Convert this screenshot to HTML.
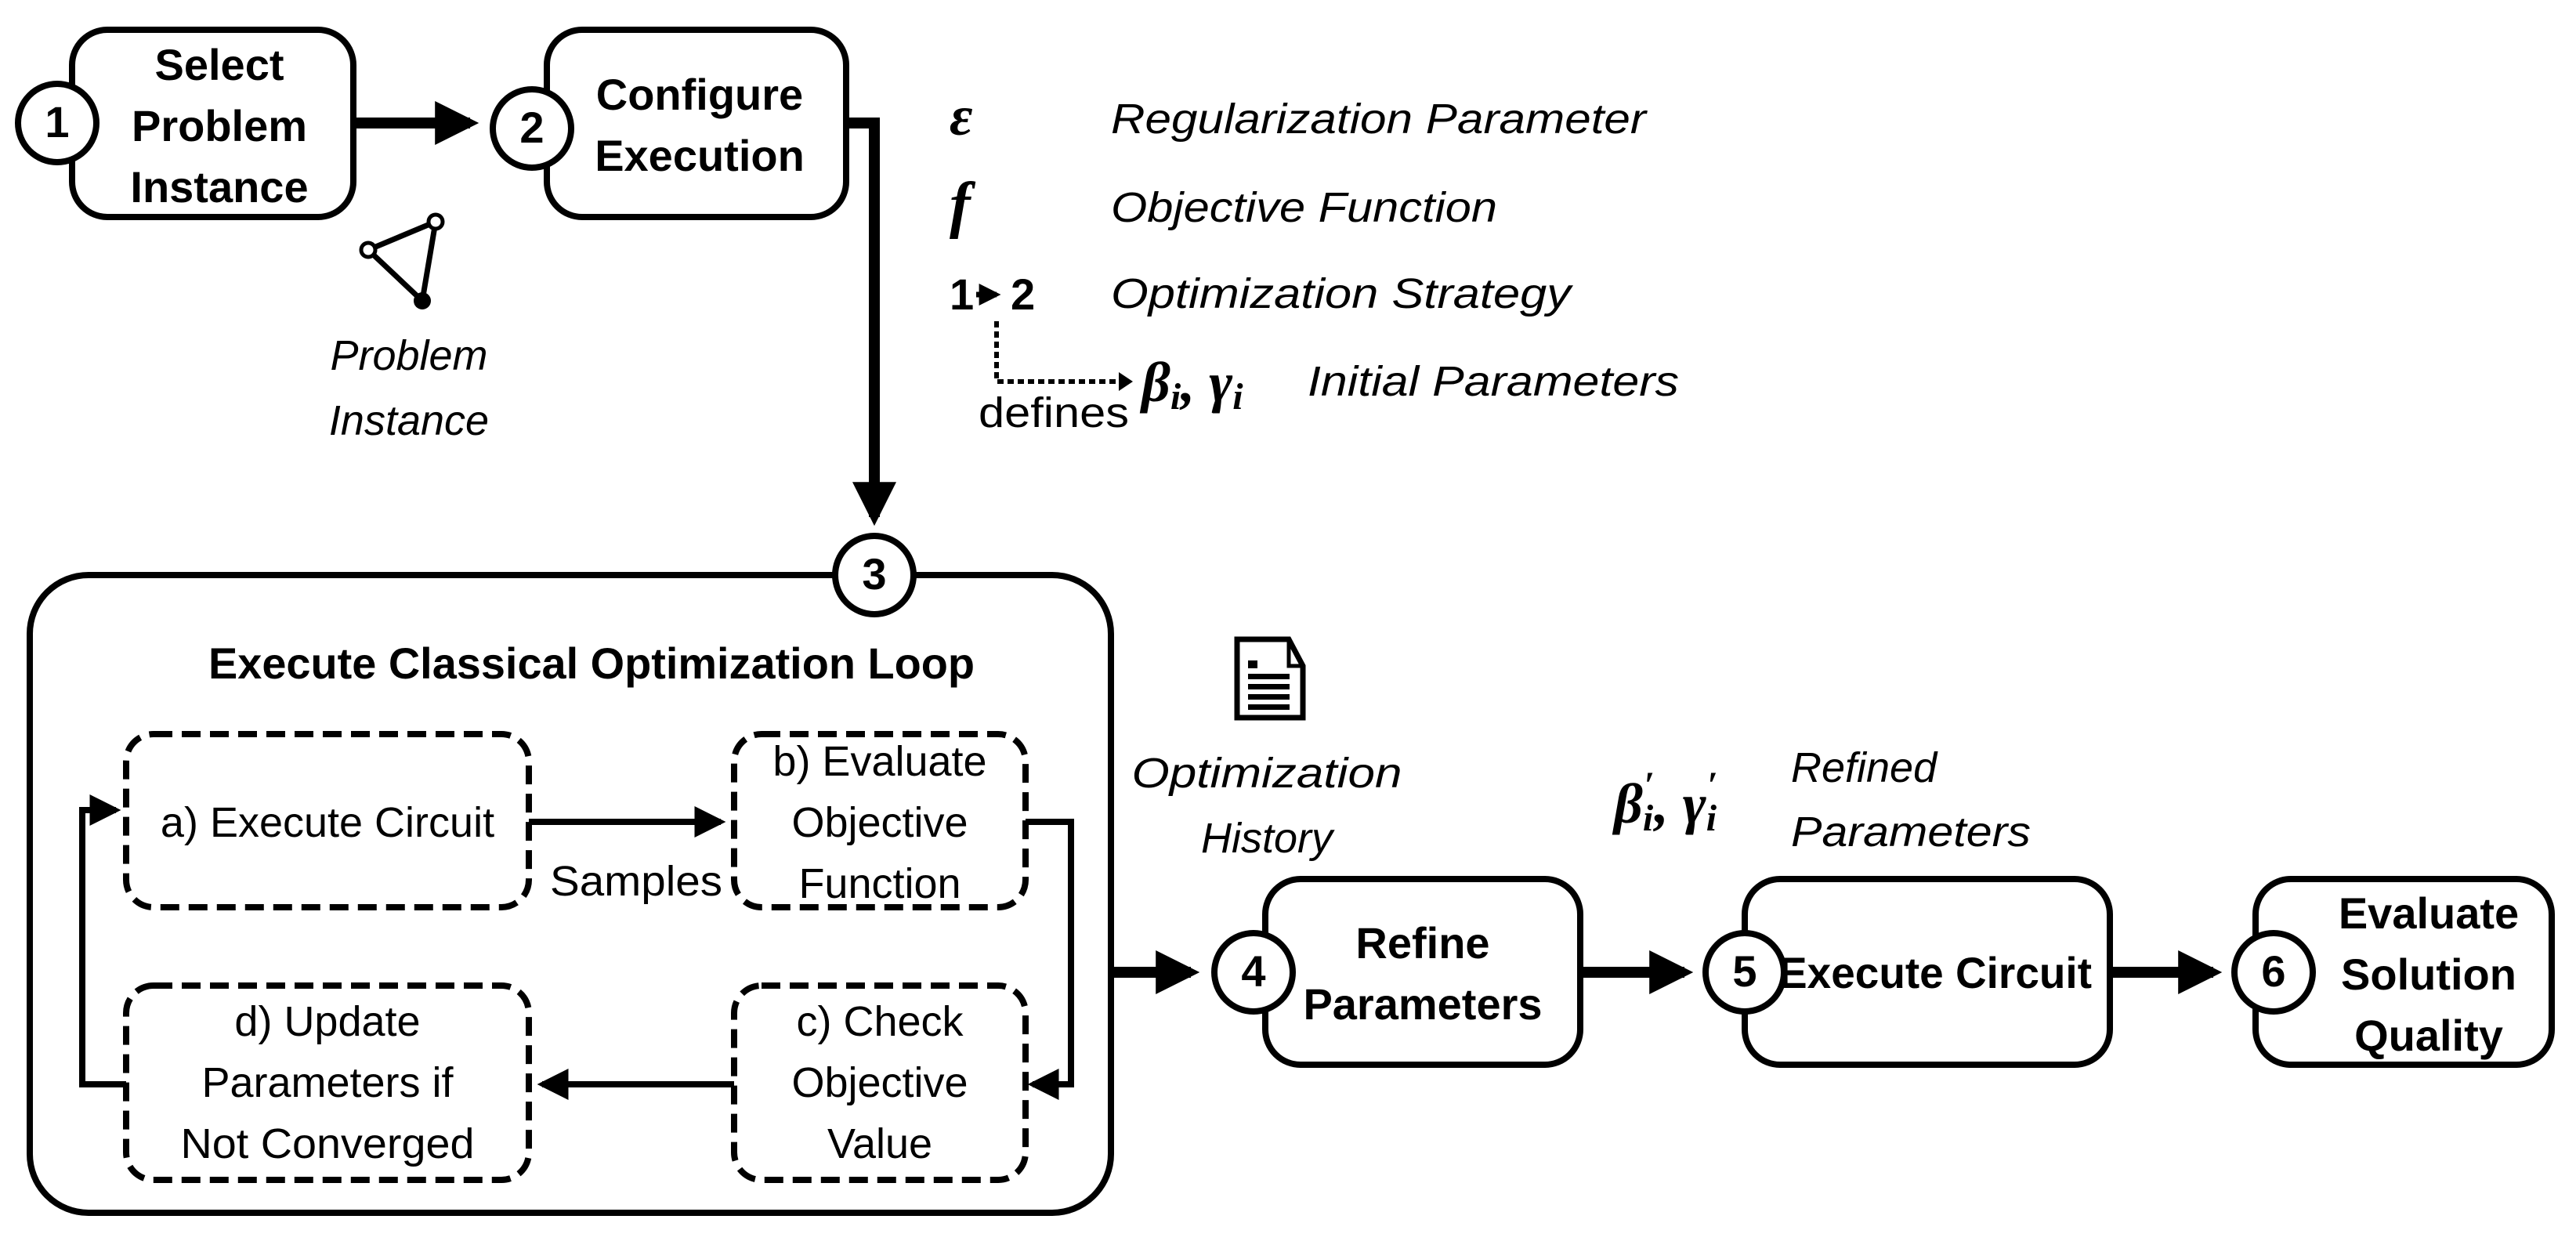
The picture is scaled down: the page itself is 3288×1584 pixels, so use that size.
<!DOCTYPE html>
<html><head><meta charset="utf-8"><style>
html,body{margin:0;padding:0;background:#fff}
svg{display:block}
text{font-family:"Liberation Sans Narrow","Liberation Sans",sans-serif;fill:#000}
.b{font-weight:bold;font-size:56px}
.r{font-size:54px}
.i{font-style:italic;font-size:54px}
</style></head><body>
<svg width="3288" height="1584" viewBox="0 0 3288 1584" xmlns="http://www.w3.org/2000/svg">
<defs>
<marker id="ah" markerWidth="4" markerHeight="4" refX="3.2" refY="2" orient="auto" markerUnits="strokeWidth"><path d="M0,0 L4,2 L0,4 z" fill="#000"/></marker>
<marker id="ah2" markerWidth="5" markerHeight="5" refX="4.2" refY="2.5" orient="auto" markerUnits="strokeWidth"><path d="M0,0 L5,2.5 L0,5 z" fill="#000"/></marker>
</defs>
<g fill="none" stroke="#000" stroke-width="8">
<rect x="92" y="38" width="359" height="239" rx="45"/>
<rect x="698" y="38" width="382" height="239" rx="45"/>
<rect x="38" y="734" width="1380" height="814" rx="75"/>
<rect x="1615" y="1122" width="402" height="237" rx="45"/>
<rect x="2227" y="1122" width="466" height="237" rx="45"/>
<rect x="2879" y="1122" width="378" height="237" rx="45"/>
</g>
<g fill="#fff" stroke="#000" stroke-width="8" stroke-dasharray="24,12">
<rect x="161" y="937" width="514" height="221" rx="35"/>
<rect x="937" y="937" width="372" height="221" rx="35"/>
<rect x="161" y="1258" width="514" height="248" rx="35"/>
<rect x="937" y="1258" width="372" height="248" rx="35"/>
</g>
<g stroke="#000" stroke-width="14" fill="none">
<line x1="451" y1="157" x2="600" y2="157" marker-end="url(#ah)"/>
<polyline points="1080,157 1116,157 1116,660" marker-end="url(#ah)"/>
<line x1="1418" y1="1241" x2="1520" y2="1241" marker-end="url(#ah)"/>
<line x1="2017" y1="1241" x2="2150" y2="1241" marker-end="url(#ah)"/>
<line x1="2693" y1="1241" x2="2825" y2="1241" marker-end="url(#ah)"/>
</g>
<g stroke="#000" stroke-width="8" fill="none">
<line x1="675" y1="1049" x2="920" y2="1049" marker-end="url(#ah2)"/>
<polyline points="1309,1049 1367,1049 1367,1384 1318,1384" marker-end="url(#ah2)"/>
<line x1="937" y1="1384" x2="692" y2="1384" marker-end="url(#ah2)"/>
<polyline points="161,1384 105,1384 105,1034 148,1034" marker-end="url(#ah2)"/>
</g>
<g fill="#fff" stroke="#000" stroke-width="8">
<circle cx="73" cy="157" r="50"/>
<circle cx="679" cy="164" r="50"/>
<circle cx="1116" cy="734" r="50"/>
<circle cx="1600" cy="1241" r="50"/>
<circle cx="2227" cy="1241" r="50"/>
<circle cx="2902" cy="1241" r="50"/>
</g>
<g text-anchor="middle">
<text x="73" y="175" class="b">1</text>
<text x="679" y="182" class="b">2</text>
<text x="1116" y="752" class="b">3</text>
<text x="1600" y="1259" class="b">4</text>
<text x="2227" y="1259" class="b">5</text>
<text x="2902" y="1259" class="b">6</text>
</g>
<g text-anchor="middle">
<text x="280" y="102" class="b">Select</text>
<text x="280" y="180" class="b">Problem</text>
<text x="280" y="258" class="b">Instance</text>
<text x="893" y="140" class="b">Configure</text>
<text x="893" y="218" class="b">Execution</text>
<text x="755" y="866" class="b" textLength="978" lengthAdjust="spacingAndGlyphs">Execute Classical Optimization Loop</text>
<text x="1816" y="1223" class="b">Refine</text>
<text x="1816" y="1301" class="b">Parameters</text>
<text x="2470" y="1261" class="b" textLength="400" lengthAdjust="spacingAndGlyphs">Execute Circuit</text>
<text x="3100" y="1185" class="b">Evaluate</text>
<text x="3100" y="1263" class="b">Solution</text>
<text x="3100" y="1341" class="b">Quality</text>
</g>
<g text-anchor="middle">
<text x="418" y="1068" class="r">a) Execute Circuit</text>
<text x="1123" y="990" class="r">b) Evaluate</text>
<text x="1123" y="1068" class="r">Objective</text>
<text x="1123" y="1146" class="r">Function</text>
<text x="1123" y="1322" class="r">c) Check</text>
<text x="1123" y="1400" class="r">Objective</text>
<text x="1123" y="1478" class="r">Value</text>
<text x="418" y="1322" class="r">d) Update</text>
<text x="418" y="1400" class="r">Parameters if</text>
<text x="418" y="1478" class="r" textLength="375" lengthAdjust="spacingAndGlyphs">Not Converged</text>
<text x="812" y="1143" class="r" textLength="220" lengthAdjust="spacingAndGlyphs">Samples</text>
</g>
<g stroke="#000" stroke-width="7">
<line x1="556" y1="283" x2="470" y2="319"/>
<line x1="470" y1="319" x2="539" y2="384"/>
<line x1="556" y1="283" x2="539" y2="384"/>
</g>
<circle cx="556" cy="283" r="9" fill="#fff" stroke="#000" stroke-width="5"/>
<circle cx="470" cy="319" r="9" fill="#fff" stroke="#000" stroke-width="5"/>
<circle cx="539" cy="384" r="11" fill="#000"/>
<g text-anchor="middle">
<text x="522" y="472" class="i">Problem</text>
<text x="522" y="555" class="i">Instance</text>
</g>
<text x="1212" y="172" style="font-family:'Liberation Serif',serif;font-style:italic;font-weight:bold;font-size:72px">ε</text>
<text x="1418" y="170" class="i" textLength="683" lengthAdjust="spacingAndGlyphs">Regularization Parameter</text>
<text x="1212" y="288" style="font-family:'Liberation Serif',serif;font-style:italic;font-weight:bold;font-size:80px">f</text>
<text x="1418" y="283" class="i" textLength="493" lengthAdjust="spacingAndGlyphs">Objective Function</text>
<text x="1212" y="395" class="b" font-size="60">1</text>
<text x="1290" y="395" class="b" font-size="60">2</text>
<line x1="1246" y1="376" x2="1272" y2="376" stroke="#000" stroke-width="7" marker-end="url(#ah)"/>
<text x="1418" y="393" class="i" textLength="587" lengthAdjust="spacingAndGlyphs">Optimization Strategy</text>
<polyline points="1272,410 1272,487 1430,487" fill="none" stroke="#000" stroke-width="6" stroke-dasharray="8,5"/>
<path d="M1428,475 L1446,487 L1428,499 z" fill="#000"/>
<text x="1249" y="545" class="r" textLength="192" lengthAdjust="spacingAndGlyphs">defines</text>
<text x="1457" y="512" style="font-family:'Liberation Serif',serif;font-style:italic;font-weight:bold;font-size:72px">β<tspan font-size="48" dy="10">i</tspan><tspan dy="-10">, γ</tspan><tspan font-size="48" dy="10">i</tspan></text>
<text x="1669" y="505" class="i" textLength="474" lengthAdjust="spacingAndGlyphs">Initial Parameters</text>
<path d="M1579,816 L1645,816 L1663,850 L1663,916 L1579,916 z" fill="#fff" stroke="#000" stroke-width="7"/>
<path d="M1645,816 L1645,850 L1663,850" fill="none" stroke="#000" stroke-width="5"/>
<g fill="#000">
<rect x="1593" y="843" width="12" height="10"/>
<rect x="1593" y="860" width="53" height="7"/>
<rect x="1593" y="873" width="53" height="7"/>
<rect x="1593" y="886" width="53" height="7"/>
<rect x="1593" y="899" width="53" height="7"/>
</g>
<g text-anchor="middle">
<text x="1617" y="1005" class="i" textLength="345" lengthAdjust="spacingAndGlyphs">Optimization</text>
<text x="1617" y="1088" class="i">History</text>
</g>
<text x="2060" y="1050" style="font-family:'Liberation Serif',serif;font-style:italic;font-weight:bold;font-size:72px">β<tspan font-size="48" dy="10">i</tspan><tspan font-size="48" dy="-42" dx="-12">′</tspan><tspan dy="32">, γ</tspan><tspan font-size="48" dy="10">i</tspan><tspan font-size="48" dy="-42" dx="-12">′</tspan></text>
<text x="2286" y="998" class="i">Refined</text>
<text x="2286" y="1080" class="i" textLength="306" lengthAdjust="spacingAndGlyphs">Parameters</text>
</svg>
</body></html>
